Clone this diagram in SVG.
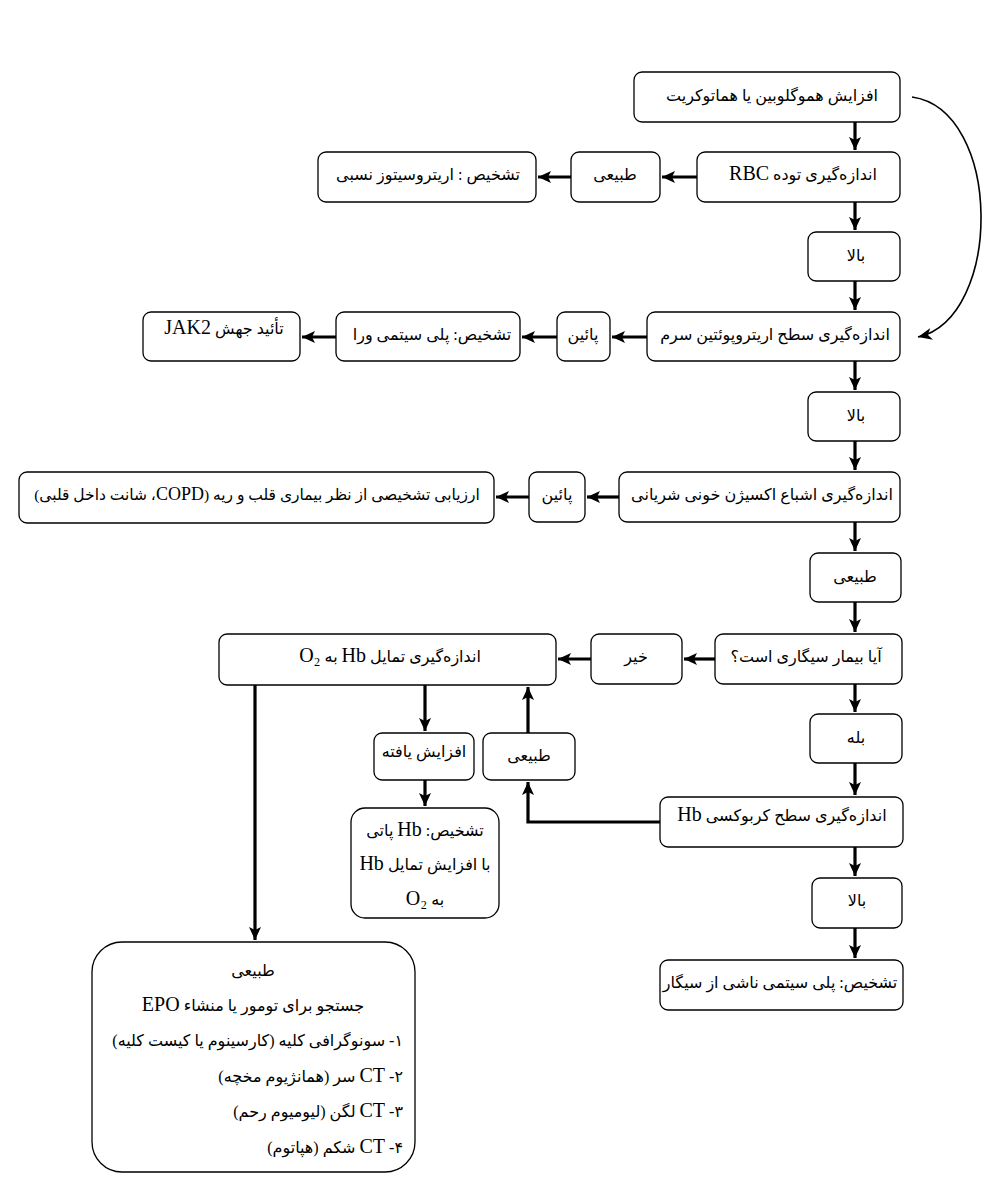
<svg xmlns="http://www.w3.org/2000/svg" width="982" height="1197" viewBox="0 0 982 1197">
<style>
.b{fill:#fff;stroke:#000;stroke-width:1.3}
.t{font-family:"Liberation Serif","DejaVu Sans",serif;font-size:16px;fill:#000;direction:rtl;text-anchor:middle}
.r{text-anchor:start}
.L{font-size:20px}
.c{fill:none;stroke:#000;stroke-width:3.2}
.cv{fill:none;stroke:#000;stroke-width:1.6}
</style>
<defs>
<marker id="ah" markerUnits="userSpaceOnUse" markerWidth="14" markerHeight="14" refX="13" refY="7" orient="auto">
<path d="M0,1 L13,7 L0,13 L3,7 z" fill="#000"/>
</marker>
<marker id="ah2" markerUnits="userSpaceOnUse" markerWidth="16" markerHeight="14" refX="14" refY="7" orient="auto">
<path d="M0,1 L14,7 L0,13 L4,7 z" fill="#000"/>
</marker>
</defs>
<rect width="982" height="1197" fill="#fff"/>
<g id="connectors">
<path class="c" d="M855,122 V150" marker-end="url(#ah)"/>
<path class="c" d="M697,177 H662" marker-end="url(#ah)"/>
<path class="c" d="M571,177 H538" marker-end="url(#ah)"/>
<path class="c" d="M855,202 V230" marker-end="url(#ah)"/>
<path class="c" d="M855,281 V310" marker-end="url(#ah)"/>
<path class="cv" d="M912,97 C1003,110 1003,318 918,337" marker-end="url(#ah2)"/>
<path class="c" d="M647,337 H612" marker-end="url(#ah)"/>
<path class="c" d="M557,337 H522" marker-end="url(#ah)"/>
<path class="c" d="M336,337 H302" marker-end="url(#ah)"/>
<path class="c" d="M855,361 V390" marker-end="url(#ah)"/>
<path class="c" d="M855,441 V470" marker-end="url(#ah)"/>
<path class="c" d="M619,497 H587" marker-end="url(#ah)"/>
<path class="c" d="M529,497 H496" marker-end="url(#ah)"/>
<path class="c" d="M855,522 V551" marker-end="url(#ah)"/>
<path class="c" d="M855,602 V632" marker-end="url(#ah)"/>
<path class="c" d="M715,659 H684" marker-end="url(#ah)"/>
<path class="c" d="M591,659 H558" marker-end="url(#ah)"/>
<path class="c" d="M855,684 V712" marker-end="url(#ah)"/>
<path class="c" d="M855,763 V795" marker-end="url(#ah)"/>
<path class="c" d="M660,822 H528 V782" marker-end="url(#ah)"/>
<path class="c" d="M528,733 V687" marker-end="url(#ah)"/>
<path class="c" d="M425,685 V731" marker-end="url(#ah)"/>
<path class="c" d="M425,780 V806" marker-end="url(#ah)"/>
<path class="c" d="M255,685 V940" marker-end="url(#ah)"/>
<path class="c" d="M855,847 V876" marker-end="url(#ah)"/>
<path class="c" d="M855,928 V958" marker-end="url(#ah)"/>
</g>
<g id="n1"><rect class="b" x="634" y="72" width="266" height="50" rx="8"/><text class="t" x="772" y="101">افزایش هموگلوبین یا هماتوکریت</text></g>
<g id="n2"><rect class="b" x="697" y="152" width="203" height="50" rx="8"/><text class="t" x="803" y="180">اندازه‌گیری توده <tspan class="L">RBC</tspan></text></g>
<g id="n3"><rect class="b" x="571" y="152" width="89" height="50" rx="8"/><text class="t" x="615" y="180">طبیعی</text></g>
<g id="n4"><rect class="b" x="318" y="152" width="218" height="50" rx="8"/><text class="t" x="428" y="180">تشخیص : اریتروسیتوز نسبی</text></g>
<g id="n5"><rect class="b" x="808" y="232" width="92" height="49" rx="8"/><text class="t" x="856" y="261">بالا</text></g>
<g id="n6"><rect class="b" x="647" y="312" width="253" height="49" rx="8"/><text class="t" x="775" y="340">اندازه‌گیری سطح اریتروپوئتین سرم</text></g>
<g id="n7"><rect class="b" x="557" y="312" width="53" height="49" rx="8"/><text class="t" x="583" y="340">پائین</text></g>
<g id="n8"><rect class="b" x="336" y="312" width="184" height="49" rx="8"/><text class="t" x="432" y="340">تشخیص: پلی سیتمی ورا</text></g>
<g id="n9"><rect class="b" x="143" y="312" width="157" height="49" rx="8"/><text class="t" x="224" y="334">تأئید جهش <tspan class="L">JAK2</tspan></text></g>
<g id="n10"><rect class="b" x="808" y="392" width="92" height="49" rx="8"/><text class="t" x="856" y="421">بالا</text></g>
<g id="n11"><rect class="b" x="619" y="472" width="281" height="50" rx="8"/><text class="t" x="762" y="500">اندازه‌گیری اشباع اکسیژن خونی شریانی</text></g>
<g id="n12"><rect class="b" x="529" y="472" width="56" height="50" rx="8"/><text class="t" x="557" y="500">پائین</text></g>
<g id="n13"><rect class="b" x="19" y="472" width="475" height="51" rx="8"/><text class="t" x="257" y="500" style="font-size:15.5px">ارزیابی تشخیصی از نظر بیماری قلب و ریه (<tspan style="font-size:18px">COPD</tspan>، شانت داخل قلبی)</text></g>
<g id="n14"><rect class="b" x="810" y="553" width="91" height="49" rx="8"/><text class="t" x="855" y="582">طبیعی</text></g>
<g id="n15"><rect class="b" x="715" y="634" width="187" height="50" rx="8"/><text class="t" x="806" y="662">آیا بیمار سیگاری است؟</text></g>
<g id="n16"><rect class="b" x="591" y="634" width="91" height="50" rx="8"/><text class="t" x="636" y="662">خیر</text></g>
<g id="n17"><rect class="b" x="219" y="634" width="337" height="51" rx="8"/><text class="t" x="390" y="662">اندازه‌گیری تمایل <tspan class="L">Hb</tspan> به <tspan class="L">O₂</tspan></text></g>
<g id="n18"><rect class="b" x="810" y="714" width="92" height="49" rx="8"/><text class="t" x="856" y="743">بله</text></g>
<g id="n19"><rect class="b" x="660" y="797" width="243" height="50" rx="8"/><text class="t" x="782" y="821">اندازه‌گیری سطح کربوکسی <tspan class="L">Hb</tspan></text></g>
<g id="n20"><rect class="b" x="483" y="733" width="92" height="47" rx="8"/><text class="t" x="529" y="761">طبیعی</text></g>
<g id="n21"><rect class="b" x="374" y="733" width="100" height="47" rx="8"/><text class="t" x="424" y="757">افزایش یافته</text></g>
<g id="n22"><rect class="b" x="351" y="808" width="148" height="110" rx="14"/>
<text class="t" x="425" y="836">تشخیص: <tspan class="L">Hb</tspan> پاتی</text>
<text class="t" x="425" y="870">با افزایش تمایل <tspan class="L">Hb</tspan></text>
<text class="t" x="425" y="905">به <tspan class="L">O₂</tspan></text></g>
<g id="n23"><rect class="b" x="812" y="878" width="90" height="50" rx="8"/><text class="t" x="857" y="906">بالا</text></g>
<g id="n24"><rect class="b" x="660" y="960" width="243" height="50" rx="8"/><text class="t" x="780" y="988">تشخیص: پلی سیتمی ناشی از سیگار</text></g>
<g id="n25"><rect class="b" x="92" y="942" width="323" height="230" rx="30"/>
<text class="t" x="253" y="976">طبیعی</text>
<text class="t" x="253" y="1011">جستجو برای تومور یا منشاء <tspan class="L">EPO</tspan></text>
<text class="t r" x="403" y="1046">۱- سونوگرافی کلیه (کارسینوم یا کیست کلیه)</text>
<text class="t r" x="403" y="1082">۲- <tspan class="L">CT</tspan> سر (همانژیوم مخچه)</text>
<text class="t r" x="403" y="1117">۳- <tspan class="L">CT</tspan> لگن (لیومیوم رحم)</text>
<text class="t r" x="403" y="1153">۴- <tspan class="L">CT</tspan> شکم (هپاتوم)</text></g>
</svg>
